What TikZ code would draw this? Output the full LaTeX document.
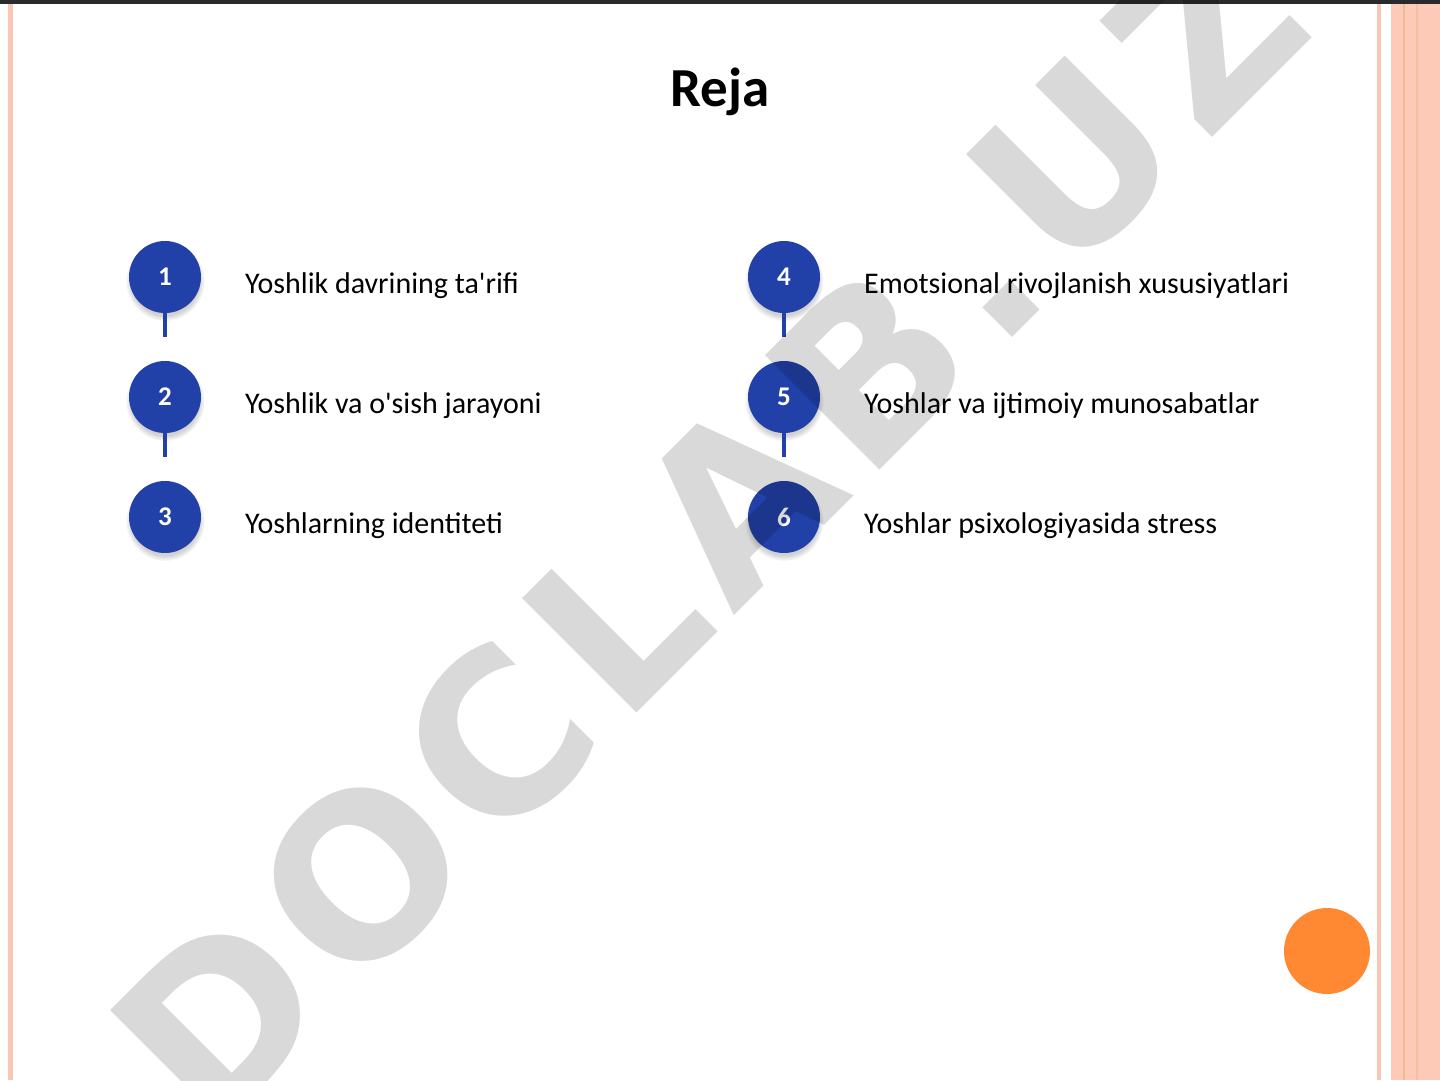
\documentclass[tikz,border=0pt]{standalone}
\usepackage{fontspec}
\setmainfont{Carlito}
\newfontfamily\wmfont{DejaVu Sans}
\usetikzlibrary{shadows}

\begin{document}
\begin{tikzpicture}[x=1pt, y=1pt,
    num/.style = {circle, fill=C2140A8, minimum size=72pt, inner sep=0, text=white,
        font=\fontsize{27}{27}\selectfont\bfseries,
        circular drop shadow={shadow xshift=0pt, shadow yshift=-4pt, opacity=0.35}},
    item/.style = {anchor=base west, inner sep=0, font=\fontsize{30}{30}\selectfont},
    stub/.style = {draw=C2140A8, line width=4pt}]
    \definecolor{C2140A8}{RGB}{33,64,168}
    \definecolor{C2B2B2B}{RGB}{40,42,44}
    \definecolor{FAC6B2}{RGB}{248,198,178}
    \definecolor{FCCAB6}{RGB}{252,202,182}
    \definecolor{F0B890}{RGB}{240,184,148}
    \definecolor{FF8833}{RGB}{255,136,51}
    \useasboundingbox (0,0) rectangle (1440,-1080);
    \fill [white] (0,0) rectangle (1440,-1080);
    % page frame
    \fill [C2B2B2B] (0,0) rectangle (1440,-4);
    \fill [FAC6B2] (8,-4) rectangle (13,-1080);
    \fill [FAC6B2] (1377,-4) rectangle (1381,-1080);
    \fill [FCCAB6] (1391,-4) rectangle (1440,-1080);
    \fill [F0B890] (1403,-4) rectangle (1405,-1080);
    \fill [F0B890!60!FCCAB6] (1416,-4) rectangle (1418,-1080);
    % title
    \node [anchor=base, inner sep=0, font=\fontsize{55}{55}\selectfont\bfseries] (ID_H-1) at (720,-106) {Reja};
    % numbered points
    \node [num] (ID_C-1) at (165,-277) {1};
    \node [num] (ID_C-2) at (165,-397) {2};
    \node [num] (ID_C-3) at (165,-517) {3};
    \node [num] (ID_C-4) at (784,-277) {4};
    \node [num] (ID_C-5) at (784,-397) {5};
    \node [num] (ID_C-6) at (784,-517) {6};
    \coordinate (ID_S-1) at (165,-337);
    \coordinate (ID_S-2) at (165,-457);
    \coordinate (ID_S-4) at (784,-337);
    \coordinate (ID_S-5) at (784,-457);
    \draw [stub] (ID_C-1.south) -- (ID_S-1);
    \draw [stub] (ID_C-2.south) -- (ID_S-2);
    \draw [stub] (ID_C-4.south) -- (ID_S-4);
    \draw [stub] (ID_C-5.south) -- (ID_S-5);
    \node [item] (ID_T-1) at (245,-293) {Yoshlik davrining ta\textquotesingle rifi};
    \node [item] (ID_T-2) at (245,-413) {Yoshlik va o\textquotesingle sish jarayoni};
    \node [item] (ID_T-3) at (245,-533) {Yoshlarning identiteti};
    \node [item] (ID_T-4) at (864,-293) {Emotsional rivojlanish xususiyatlari};
    \node [item] (ID_T-5) at (864,-413) {Yoshlar va ijtimoiy munosabatlar};
    \node [item] (ID_T-6) at (864,-533) {Yoshlar psixologiyasida stress};
    % corner dot
    \node [circle, fill=FF8833, minimum size=86pt, inner sep=0] (ID_O-1) at (1327,-951) {};
    % watermark
    \begin{scope}
        \clip (0,0) rectangle (1440,-1080);
        \node [anchor=base west, inner sep=0, rotate=45, text=black, text opacity=0.15,
            font=\wmfont\bfseries\fontsize{222}{222}\selectfont] (ID_W-1) at (210,-1140)
            {D\kern.07em O\kern.07em C\kern.07em L\kern.07em A\kern.07em B\kern.07em .\kern.07em U\kern.07em Z};
    \end{scope}
\end{tikzpicture}
\end{document}
